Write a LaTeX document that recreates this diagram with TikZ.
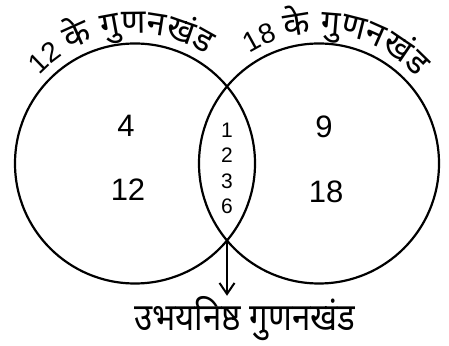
\documentclass[tikz,border=0pt]{standalone}
\usepackage{fontspec}
\setmainfont{Liberation Sans}
\newfontfamily\hindi[Script=Devanagari]{Noto Sans}
\usetikzlibrary{arrows.meta, calc, decorations.text}

\begin{document}
\begin{tikzpicture}[
    x=1pt, y=1pt,
    venn/.style={circle, draw, line width=2.2pt, minimum size=240pt, inner sep=0pt},
    num/.style={font=\fontsize{31}{31}\selectfont},
    arrow/.style={-{Straight Barb[length=11pt, width=15pt]}, line width=2pt}
  ]
    \useasboundingbox (0,0) rectangle (449,345);

    \node[venn] (left)  at (135,181.5) {};
    \node[venn] (right) at (319,181.5) {};
    \coordinate (meet) at (227,104.5);

    \node[num] (n4)  at (126,219) {4};
    \node[num] (n12) at (128,155) {12};
    \node[num] (n9)  at (324,218) {9};
    \node[num] (n18) at (326,153) {18};
    \node[align=center, font=\fontsize{21}{25.5}\selectfont] (both) at (227,176.5) {1\\2\\3\\6};

    % labels bent along the tops of the circles
    \path[decorate, decoration={text along path, text align=center,
        text={|\fontsize{28}{28}\selectfont|12{\kern8pt}|\hindi\fontsize{34}{34}\selectfont|{के}{\kern9pt}{गु}{ण}{न}{खं}{ड}}}]
      ($(left)+(157:130)$) arc[start angle=157, end angle=37, radius=130];
    \path[decorate, decoration={text along path, text align=center,
        text={|\fontsize{28}{28}\selectfont|18{\kern8pt}|\hindi\fontsize{34}{34}\selectfont|{के}{\kern9pt}{गु}{ण}{न}{खं}{ड}}}]
      ($(right)+(142:130)$) arc[start angle=142, end angle=22, radius=130];

    \node[font=\hindi\fontsize{38}{38}\selectfont, xscale=0.87, anchor=base, inner sep=0pt] (common) at (245,15) {उभयनिष्ठ गुणनखंड};
    \draw[arrow] (meet) -- (meet |- common.north);
  \end{tikzpicture}
\end{document}
